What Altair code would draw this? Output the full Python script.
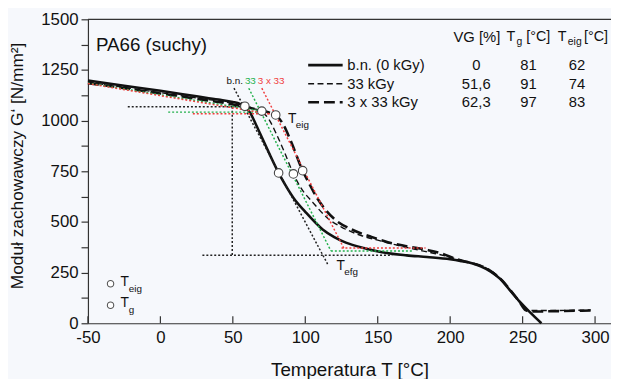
import altair as alt
import pandas as pd

FONT = "Liberation Sans"
BG = "#f6f8fc"

# ---- curve data (T in °C, G' in N/mm²) ----
T_bn = [-50, -25, 0, 25, 40, 50, 55, 58, 62, 66, 70, 75, 81.6, 86, 92, 100, 112, 120, 128, 141, 153, 170, 184, 200, 207, 215, 221, 228, 234.5, 241, 248, 255, 263]
G_bn = [1198, 1172, 1147, 1120, 1104, 1092, 1082, 1071, 1038, 980, 918, 840, 742, 685, 617, 550, 463, 425, 398, 370, 350, 335, 327, 316, 308, 296, 281, 255, 219, 165, 107, 55, 0]

T_33 = [-50, -25, 0, 25, 50, 60, 65, 70, 75, 80, 86, 91.8, 97, 105, 116, 125, 139, 150, 162, 175, 191, 200, 207, 215, 222, 229, 236, 243, 248, 252, 256, 270, 285, 297]
G_33 = [1190, 1164, 1138, 1112, 1085, 1070, 1058, 1045, 1005, 935, 838, 737, 668, 598, 515, 475, 432, 410, 388, 366, 342, 326, 311, 298, 282, 255, 210, 150, 102, 68, 63, 63, 64, 66]

T_3x = [-50, -25, 0, 25, 50, 65, 75, 79.6, 85, 90, 98.2, 103, 108, 114, 120, 132, 145, 157, 170, 184, 195, 203, 212, 220, 228, 236, 243, 248, 252, 256, 275, 297]
G_3x = [1185, 1160, 1134, 1108, 1080, 1058, 1040, 1028, 978, 900, 753, 685, 620, 560, 515, 463, 428, 400, 380, 362, 342, 320, 302, 287, 258, 210, 150, 104, 65, 58, 60, 63]

# characteristic points
T_eig_pts = [58.3, 70.0, 79.6]
G_eig_pts = [1071, 1047, 1028]
T_g_pts = [81.6, 91.8, 98.2]
G_g_pts = [742, 737, 753]

# construction (dotted) segments: start T, start G, end T, end G, colour
seg_T1 = [-22.5, 50.8, 49.6, 29.0, -50, 5.4, 61.0, 117.7, -50, 22.4, 70.0, 125.0]
seg_G1 = [1068, 1160, 1068, 336, 1185, 1042, 1160, 357, 1183, 1034, 1160, 372]
seg_T2 = [57.0, 115.4, 49.6, 160.0, 70.0, 68.0, 117.7, 174.0, 79.6, 79.0, 127.0, 183.0]
seg_G2 = [1068, 292, 336, 336, 1047, 1042, 357, 357, 1028, 1034, 365, 372]
seg_col = ["#222222"] * 4 + ["#22b04b"] * 4 + ["#f03c3c"] * 4

# legend table
leg_names = ["b.n. (0 kGy)", "33 kGy", "3 x 33 kGy"]
leg_VG = ["0", "51,6", "62,3"]
leg_Tg = ["81", "91", "97"]
leg_Teig = ["62", "74", "83"]

x_ticks = [-50, 0, 50, 100, 150, 200, 250, 300]
y_ticks = [0, 125, 250, 375, 500, 625, 750, 875, 1000, 1125, 1250, 1375, 1500]

X = alt.X("T:Q", scale=alt.Scale(domain=[-50, 311], nice=False, zero=False),
          axis=alt.Axis(title="Temperatura T [°C]", values=x_ticks, ticks=False, tickSize=0,
                        labelExpr="'' + datum.value", labelFlush=False, labelOverlap=False,
                        labelPadding=6, titlePadding=16, grid=False))
Y = alt.Y("G:Q", scale=alt.Scale(domain=[0, 1500], nice=False),
          axis=alt.Axis(title="Moduł zachowawczy G‘ [N/mm²]", values=y_ticks, tickSize=7,
                        labelExpr="datum.value % 250 == 0 ? '' + datum.value : ''",
                        labelFlush=False, labelOverlap=False,
                        labelPadding=3, titleX=-71, titleY=148, titleAngle=-90,
                        titleAlign="center", titleBaseline="middle", titleFontSize=17.5,
                        grid=False))

def line_layer(T, G, width, dash):
    df = pd.DataFrame({"T": T, "G": G})
    kw = dict(color="#111111", strokeWidth=width, interpolate="monotone")
    if dash:
        kw["strokeDash"] = dash
    return alt.Chart(df).mark_line(**kw).encode(x=X, y=Y)

l_bn = line_layer(T_bn, G_bn, 2.6, None)
l_33 = line_layer(T_33, G_33, 1.4, [6, 3.5])
l_3x = line_layer(T_3x, G_3x, 2.6, [11, 5])

segs = pd.DataFrame({"T": seg_T1, "G": seg_G1, "T2": seg_T2, "G2": seg_G2, "c": seg_col})
seg_layer = alt.Chart(segs).mark_rule(strokeWidth=1.5, strokeDash=[2, 2]).encode(
    x=X, y=Y, x2="T2:Q", y2="G2:Q", color=alt.Color("c:N", scale=None))

pts = pd.DataFrame({"T": T_eig_pts + T_g_pts, "G": G_eig_pts + G_g_pts})
pt_layer = alt.Chart(pts).mark_point(shape="circle", size=75, filled=True, fill="white",
                                     stroke="#444444", strokeWidth=1.1, opacity=1).encode(x=X, y=Y)

# frame top and inward x ticks
top_df = pd.DataFrame({"T": [-50], "T2": [311], "G": [1500]})
top_layer = alt.Chart(top_df).mark_rule(color="#333333", strokeWidth=1.2).encode(x=X, x2="T2:Q", y=Y)
xt_df = pd.DataFrame({"T": x_ticks})
xt_layer = alt.Chart(xt_df).mark_rule(color="#333333", strokeWidth=1.2).encode(
    x=X, y=alt.value(308), y2=alt.value(301))

# legend line samples
row_G = [1274, 1182, 1091]
def sample(i, width, dash):
    df = pd.DataFrame({"T": [102.0], "T2": [125.8], "G": [row_G[i]]})
    kw = dict(color="#111111", strokeWidth=width)
    if dash:
        kw["strokeDash"] = dash
    return alt.Chart(df).mark_rule(**kw).encode(x=X, x2="T2:Q", y=Y)

samples = sample(0, 2.6, None) + sample(1, 1.4, [6, 3.5]) + sample(2, 2.6, [11, 5])

# text annotations
def texts(df, align, size, color="#111111"):
    return alt.Chart(df).mark_text(align=align, baseline="middle", font=FONT, fontSize=size,
                                   color=color).encode(x=X, y=Y, text="txt:N")

t_title = texts(pd.DataFrame({"T": [-44.5], "G": [1373], "txt": ["PA66 (suchy)"]}), "left", 19)
t_names = texts(pd.DataFrame({"T": [129.0] * 3, "G": row_G, "txt": leg_names}), "left", 15)
t_vals = texts(pd.DataFrame({"T": [218.0] * 3 + [254.0] * 3 + [287.5] * 3,
                             "G": row_G * 3, "txt": leg_VG + leg_Tg + leg_Teig}), "center", 15)
t_head = texts(pd.DataFrame({"T": [218.4], "G": [1412], "txt": ["VG [%]"]}), "center", 15)
t_headL = texts(pd.DataFrame({"T": [238.8, 252.5, 274.3, 292.4], "G": [1412] * 4,
                              "txt": ["T", "[°C]", "T", "[°C]"]}), "left", 14.5)
t_headS = texts(pd.DataFrame({"T": [245.8, 281.2], "G": [1386] * 2, "txt": ["g", "eig"]}), "left", 10.5)

t_bigT = texts(pd.DataFrame({"T": [88.0, 121.5, -27.6, -27.6], "G": [1008, 280, 205, 102],
                             "txt": ["T", "T", "T", "T"]}), "left", 14)
t_subT = texts(pd.DataFrame({"T": [93.4, 126.9, -21.8, -21.8], "G": [980, 252, 168, 64],
                             "txt": ["eig", "efg", "eig", "g"]}), "left", 10)

t_bn = texts(pd.DataFrame({"T": [51.3], "G": [1193], "txt": ["b.n."]}), "center", 10)
t_g33 = texts(pd.DataFrame({"T": [62.1], "G": [1193], "txt": ["33"]}), "center", 10, "#22b04b")
t_r33 = texts(pd.DataFrame({"T": [76.4], "G": [1193], "txt": ["3 x 33"]}), "center", 10, "#f03c3c")

leg_pts = pd.DataFrame({"T": [-34.4, -34.4], "G": [195, 89]})
leg_pt_layer = alt.Chart(leg_pts).mark_point(shape="circle", size=42, filled=True, fill="white",
                                             stroke="#555555", strokeWidth=1.1, opacity=1).encode(x=X, y=Y)

chart = alt.layer(
    l_bn, l_33, l_3x, seg_layer, pt_layer, top_layer, xt_layer, samples,
    t_title, t_names, t_vals, t_head, t_headL, t_headS, t_bigT, t_subT, t_bn, t_g33, t_r33,
    leg_pt_layer,
).properties(
    width=530, height=308,
    autosize=alt.AutoSizeParams(type="none"),
    padding={"left": 81, "top": 9, "right": 0, "bottom": 54},
    background=BG,
).configure_view(stroke=None).configure_axis(
    labelFont=FONT, titleFont=FONT, labelFontSize=17, titleFontSize=19,
    labelColor="#111111", titleColor="#111111", titleFontWeight="normal",
    domainColor="#333333", tickColor="#333333", domainWidth=1.2, tickWidth=1.2,
)

chart.save("out.html", embed_options={"renderer": "svg", "actions": False})
